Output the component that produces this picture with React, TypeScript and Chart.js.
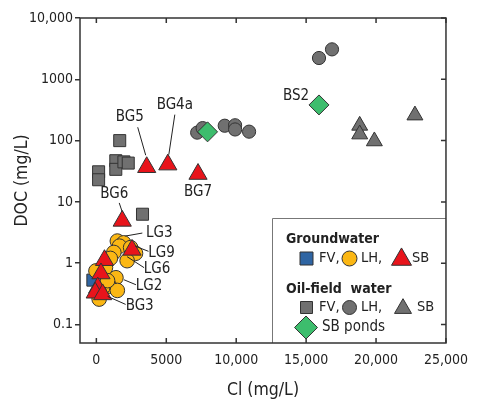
import React, { useEffect, useRef } from 'react';
import { Chart, registerables } from 'chart.js';
Chart.register(...registerables);

const FONT = "'DejaVu Sans Condensed', 'Liberation Sans', sans-serif";
const INK = '#222';
const EDGE = '#333';

// ---- axis ticks ----
const xTicks = [0, 5000, 10000, 15000, 20000, 25000];
const yTicks = [0.1, 1, 10, 100, 1000, 10000];

// ---- data (Cl mg/L, DOC mg/L) ----
const gwFV_x = [-250];
const gwFV_y = [0.53];

const gwLH_x = [1500, 1950, 1650, 2450, 2800, 2200, 1250, 1000, 650, -30, 1400, 950, 1500, 450, 230, 200, 800];
const gwLH_y = [2.3, 2.15, 1.9, 1.8, 1.45, 1.1, 1.5, 1.2, 0.85, 0.75, 0.58, 0.42, 0.36, 0.4, 0.33, 0.26, 0.52];

const gwSB_x = [3600, 5110, 7270, 1850, 2550, 580, 330, 100, -80, 450];
const gwSB_y = [36.8, 40.6, 28.5, 4.9, 1.65, 1.12, 0.68, 0.4, 0.33, 0.31];

const oilFV_x = [1670, 160, 160, 1390, 1390, 1970, 2280, 3300];
const oilFV_y = [100, 31, 23, 47, 34, 45, 43, 6.3];

const oilLH_x = [7210, 7600, 9180, 9920, 9920, 10920, 15920, 16850];
const oilLH_y = [135, 160, 175, 178, 152, 140, 2225, 3080];

const oilSB_x = [18830, 18830, 19880, 22780];
const oilSB_y = [176, 127, 98, 259];

const pond_x = [7950, 15920];
const pond_y = [139, 382];

// ---- sample labels ----
const labelNames = ['BG5', 'BG4a', 'BG7', 'BG6', 'LG3', 'LG9', 'LG6', 'LG2', 'BG3', 'BS2'];
const labelX = [3600, 5110, 7270, 1850, 1500, 2800, 2200, 1400, 450, 15920];
const labelY = [36.8, 40.6, 28.5, 4.9, 2.3, 1.45, 1.1, 0.58, 0.31, 382];
// layout: [text dx, text dy, leader line x1, y1, x2, y2] in pixels relative to the point
const labelLayout: Array<[number, number, number[] | null]> = [
  [-17, -50, [-9, -40, -1, -12]],
  [7, -60, [7, -50, 1, -10]],
  [0, 18, null],
  [-8, -27, [-3, -18, 0, -9]],
  [42, -8, [25, -8, 8, -5]],
  [26, 0, [13, -2, 0, -7]],
  [30, 8, [17, 7, 0, -4]],
  [33, 8, [20, 7, 8, 2]],
  [37, 12, [23, 10, 5, 2]],
  [-23, -9, null],
];

const C_BLUE = '#2f65a3';
const C_YELLOW = '#fbb714';
const C_RED = '#e8141b';
const C_GRAY = '#707070';
const C_GREEN = '#3dbd6d';

const pts = (xs: number[], ys: number[]) => xs.map((x, i) => ({ x, y: ys[i] }));

function fmt(v: number) {
  if (v >= 10000) return v.toLocaleString('en-US');
  return String(v);
}

function marker(ctx: CanvasRenderingContext2D, shape: string, x: number, y: number, r: number, fill: string) {
  ctx.save();
  ctx.beginPath();
  if (shape === 'circle') {
    ctx.arc(x, y, r, 0, Math.PI * 2);
  } else if (shape === 'rect') {
    ctx.rect(x - r, y - r, 2 * r, 2 * r);
  } else if (shape === 'triangle') {
    const h = r * Math.sqrt(3);
    ctx.moveTo(x, y - (2 / 3) * h);
    ctx.lineTo(x + r, y + h / 3);
    ctx.lineTo(x - r, y + h / 3);
    ctx.closePath();
  } else if (shape === 'diamond') {
    ctx.moveTo(x, y - r);
    ctx.lineTo(x + r, y);
    ctx.lineTo(x, y + r);
    ctx.lineTo(x - r, y);
    ctx.closePath();
  }
  ctx.fillStyle = fill;
  ctx.fill();
  ctx.lineWidth = 1;
  ctx.strokeStyle = EDGE;
  ctx.stroke();
  ctx.restore();
}

const framePlugin = {
  id: 'frameAndLegend',
  afterDatasetsDraw(chart: any) {
    const { ctx, chartArea, scales } = chart;
    const { left, right, top, bottom } = chartArea;

    // sample labels
    ctx.save();
    ctx.font = `15px ${FONT}`;
    ctx.fillStyle = INK;
    ctx.strokeStyle = INK;
    ctx.lineWidth = 1;
    ctx.textAlign = 'center';
    ctx.textBaseline = 'middle';
    labelNames.forEach((name, i) => {
      const px = scales.x.getPixelForValue(labelX[i]);
      const py = scales.y.getPixelForValue(labelY[i]);
      const [dx, dy, line] = labelLayout[i];
      if (line) {
        ctx.beginPath();
        ctx.moveTo(px + line[0], py + line[1]);
        ctx.lineTo(px + line[2], py + line[3]);
        ctx.stroke();
      }
      ctx.fillText(name, px + dx, py + dy);
    });
    ctx.restore();

    // legend box
    const bl = 272, bt = 218;
    ctx.save();
    ctx.fillStyle = '#fff';
    ctx.fillRect(bl, bt, right - bl, bottom - bt);
    ctx.strokeStyle = '#777';
    ctx.lineWidth = 1;
    ctx.beginPath();
    ctx.moveTo(bl + 0.5, bottom);
    ctx.lineTo(bl + 0.5, bt + 0.5);
    ctx.lineTo(right, bt + 0.5);
    ctx.stroke();

    ctx.fillStyle = INK;
    ctx.textAlign = 'left';
    ctx.textBaseline = 'middle';
    ctx.font = `bold 14px ${FONT}`;
    ctx.fillText('Groundwater', bl + 14, bt + 21);
    ctx.fillText('Oil-field  water', bl + 14, bt + 71);

    const r1 = bt + 40.5;
    const r2 = bt + 89.5;
    const r3 = bt + 109.5;
    marker(ctx, 'rect', bl + 34.5, r1, 6.5, C_BLUE);
    marker(ctx, 'circle', bl + 77.5, r1, 7.5, C_YELLOW);
    marker(ctx, 'triangle', bl + 129.5, r1 + 1, 10, C_RED);
    marker(ctx, 'rect', bl + 34.5, r2, 6, C_GRAY);
    marker(ctx, 'circle', bl + 77.5, r2, 7, C_GRAY);
    marker(ctx, 'triangle', bl + 131, r2 + 1, 8.5, C_GRAY);
    marker(ctx, 'diamond', bl + 34, r3, 11.5, C_GREEN);

    ctx.font = `14.5px ${FONT}`;
    ctx.fillStyle = INK;
    ctx.fillText('FV,', bl + 47, r1);
    ctx.fillText('LH,', bl + 89, r1);
    ctx.fillText('SB', bl + 140, r1);
    ctx.fillText('FV,', bl + 47, r2);
    ctx.fillText('LH,', bl + 89, r2);
    ctx.fillText('SB', bl + 145, r2);
    ctx.font = `15px ${FONT}`;
    ctx.fillText('SB ponds', bl + 50, r3);
    ctx.restore();

    // frame and inward ticks
    ctx.save();
    ctx.strokeStyle = EDGE;
    ctx.lineWidth = 1.5;
    ctx.strokeRect(left, top, right - left, bottom - top);
    ctx.beginPath();
    xTicks.forEach((v) => {
      const px = scales.x.getPixelForValue(v);
      ctx.moveTo(px, top);
      ctx.lineTo(px, top + 5);
      ctx.moveTo(px, bottom);
      ctx.lineTo(px, bottom - 5);
    });
    yTicks.forEach((v) => {
      const py = scales.y.getPixelForValue(v);
      ctx.moveTo(right, py);
      ctx.lineTo(right - 5, py);
    });
    ctx.stroke();
    ctx.restore();
  },
};

export default function App() {
  const ref = useRef<HTMLCanvasElement>(null);
  useEffect(() => {
    document.body.style.margin = '0';
    const common = { borderColor: EDGE, borderWidth: 1, showLine: false };
    const chart = new Chart(ref.current as HTMLCanvasElement, {
      type: 'scatter',
      data: {
        datasets: [
          { label: 'Groundwater SB', data: pts(gwSB_x, gwSB_y), pointStyle: 'triangle', pointRadius: 10.5, backgroundColor: C_RED, ...common },
          { label: 'Groundwater LH', data: pts(gwLH_x, gwLH_y), pointStyle: 'circle', pointRadius: 7.3, backgroundColor: C_YELLOW, ...common },
          { label: 'Groundwater FV', data: pts(gwFV_x, gwFV_y), pointStyle: 'rect', pointRadius: 8.5, backgroundColor: C_BLUE, ...common },
          { label: 'SB ponds', data: pts(pond_x, pond_y), pointStyle: 'rectRot', pointRadius: 10, backgroundColor: C_GREEN, ...common },
          { label: 'Oil-field SB', data: pts(oilSB_x, oilSB_y), pointStyle: 'triangle', pointRadius: 9.2, backgroundColor: C_GRAY, ...common },
          { label: 'Oil-field LH', data: pts(oilLH_x, oilLH_y), pointStyle: 'circle', pointRadius: 6.6, backgroundColor: C_GRAY, ...common },
          { label: 'Oil-field FV', data: pts(oilFV_x, oilFV_y), pointStyle: 'rect', pointRadius: 8.5, backgroundColor: C_GRAY, ...common },
        ] as any,
      },
      options: {
        responsive: false,
        animation: false,
        devicePixelRatio: 1,
        layout: { padding: { top: 18, right: 24.5, left: 0, bottom: 0 } },
        plugins: { legend: { display: false }, tooltip: { enabled: false } },
        scales: {
          x: {
            type: 'linear',
            position: 'bottom',
            min: -1170,
            max: 25000,
            afterBuildTicks: (s: any) => { s.ticks = xTicks.map((value) => ({ value })); },
            afterFit: (s: any) => { s.height = 56; },
            grid: { display: false, drawTicks: false },
            border: { display: false },
            ticks: {
              autoSkip: false,
              maxRotation: 0,
              padding: 9,
              color: INK,
              font: { family: FONT, size: 14 },
              callback: (v: any) => fmt(Number(v)),
            },
            title: {
              display: true,
              text: 'Cl (mg/L)',
              color: INK,
              font: { family: FONT, size: 17.5 },
              padding: { top: 0, bottom: -2 },
            },
          },
          y: {
            type: 'logarithmic',
            position: 'left',
            min: 0.05,
            max: 10000,
            afterBuildTicks: (s: any) => { s.ticks = yTicks.map((value) => ({ value })); },
            afterFit: (s: any) => { s.width = 80; },
            grid: { drawOnChartArea: false, drawTicks: true, tickLength: 5, color: EDGE, lineWidth: 1.5 },
            border: { display: false },
            ticks: {
              autoSkip: false,
              padding: 2,
              color: INK,
              font: { family: FONT, size: 14 },
              callback: (v: any) => fmt(Number(v)),
            },
            title: {
              display: true,
              text: 'DOC (mg/L)',
              color: INK,
              font: { family: FONT, size: 17.5 },
              padding: { top: 12, bottom: 0 },
            },
          },
        },
      } as any,
      plugins: [framePlugin],
    });
    return () => chart.destroy();
  }, []);
  return <canvas ref={ref} width={477} height={399} style={{ display: 'block', width: 477, height: 399 }} />;
}
